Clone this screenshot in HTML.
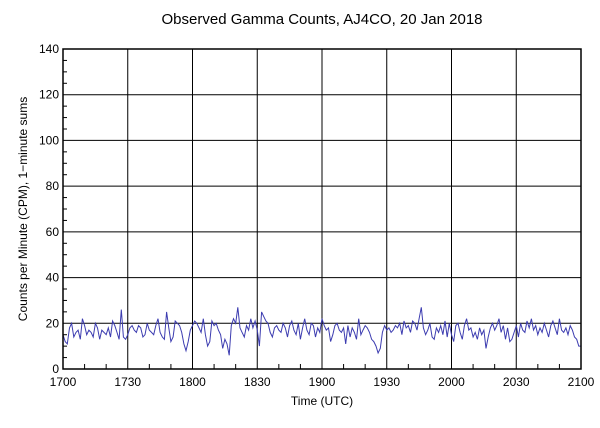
<!DOCTYPE html>
<html><head><meta charset="utf-8"><style>
body{margin:0;background:#fff;}
svg{display:block;font-family:"Liberation Sans",sans-serif;}
</style></head><body>
<svg id="chart" width="600" height="428">
<text x="322" y="24" font-size="15" text-anchor="middle">Observed Gamma Counts, AJ4CO, 20 Jan 2018</text>
<text x="322" y="405" font-size="12" text-anchor="middle">Time (UTC)</text>
<text transform="translate(27,209) rotate(-90)" font-size="12" text-anchor="middle">Counts per Minute (CPM), 1−minute sums</text>
<g id="grid"></g><g id="series"></g><g id="axes"></g>
</svg>
<script>
const xTickLabels=["1700","1730","1800","1830","1900","1930","2000","2030","2100"];
const yTickLabels=[0,20,40,60,80,100,120,140];
const counts=[15,12,11,18,20,14,16,17,13,22,19,15,17,16,14,20,18,13,17,16,
15,18,14,21,19,16,13,26,14,13,15,18,19,17,16,19,18,14,15,20,
17,16,15,19,22,16,14,13,25,18,12,14,21,20,19,16,11,8,12,17,
19,21,20,18,16,22,15,10,12,21,19,20,17,15,9,13,11,6,19,22,
20,27,18,16,14,19,17,22,18,21,17,10,25,23,21,20,16,14,18,19,
17,16,20,18,14,19,21,17,15,20,13,18,22,17,15,20,19,14,18,16,
22,19,17,18,12,15,19,20,17,16,18,11,19,14,18,16,13,22,15,17,
19,18,16,13,12,10,7,9,16,19,17,18,16,17,19,18,20,15,21,18,
19,16,21,20,17,22,27,18,15,17,20,14,13,18,16,19,15,21,14,20,
15,12,19,20,16,13,19,22,17,18,14,16,13,18,15,17,9,14,18,20,
17,19,22,16,19,13,18,12,13,16,19,14,20,17,16,21,18,22,17,19,
15,18,16,20,17,14,19,21,18,15,22,17,16,18,15,19,17,14,13,10,10];
const L=63,R=581,T=49,B=369,NS="http://www.w3.org/2000/svg";
const xMin=(i)=>L+(R-L)*i/240;
const yv=(v)=>B-(B-T)*v/140;
function el(tag,a,p){const e=document.createElementNS(NS,tag);for(const k in a)e.setAttribute(k,a[k]);p.appendChild(e);return e;}
const grid=document.getElementById('grid'),axes=document.getElementById('axes'),series=document.getElementById('series');
xTickLabels.forEach((t,i)=>{const x=xMin(i*30);
 const g=el('line',{x1:x,x2:x,y1:T,y2:B,stroke:'#000','stroke-width':1},grid);
 
 
 const tx=el('text',{x:x,y:B+17,'font-size':12,'text-anchor':'middle'},axes);tx.textContent=t;
 
 
});
for(let m=10;m<240;m+=10){if(m%30)el('line',{x1:xMin(m),x2:xMin(m),y1:B,y2:B-5,stroke:'#000'},axes);}
yTickLabels.forEach(v=>{const y=yv(v);
 const g=el('line',{x1:L,x2:R,y1:y,y2:y,stroke:'#000','stroke-width':1},grid);
 
 
 const tx=el('text',{x:L-4,y:y+4,'font-size':12,'text-anchor':'end'},axes);tx.textContent=v;
 
 
});
for(let v=5;v<140;v+=5){if(v%20)el('line',{x1:L,x2:L+4,y1:yv(v),y2:yv(v),stroke:'#000'},axes);}
const frame=el('rect',{x:L,y:T,width:R-L,height:B-T,fill:'none',stroke:'#000','stroke-width':1.5},axes);


const pts=counts.map((v,i)=>xMin(i).toFixed(1)+','+yv(v).toFixed(1)).join(' ');
const line=el('polyline',{points:pts,fill:'none',stroke:'#3c3cb0','stroke-width':1},series);


</script>
</body></html>
